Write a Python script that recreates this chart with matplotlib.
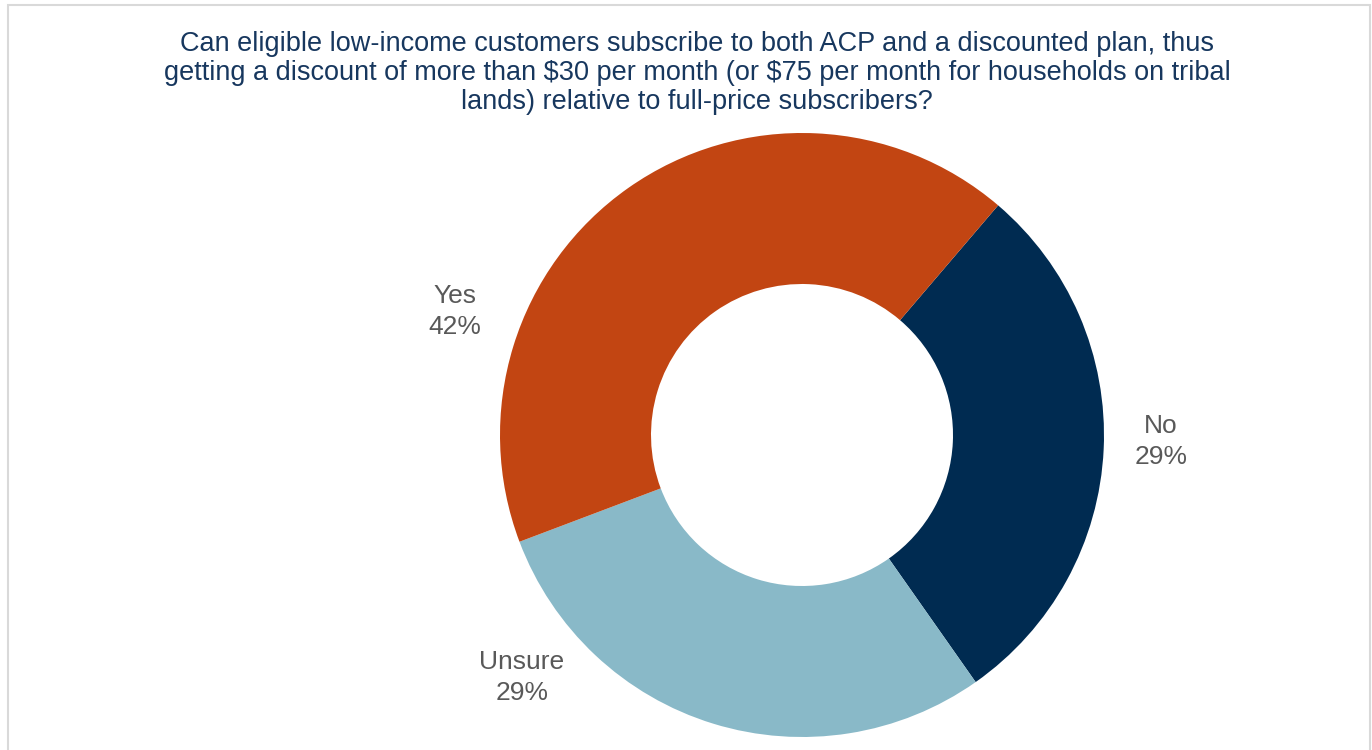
import matplotlib.pyplot as plt
from matplotlib.patches import Rectangle

plt.rcParams['font.family'] = ['Liberation Sans', 'DejaVu Sans']

# data
labels = ["No", "Unsure", "Yes"]
values = [29, 29, 42]
colors = ["#002B51", "#89B9C8", "#C24512"]

title_lines = [
    "Can eligible low-income customers subscribe to both ACP and a discounted plan, thus",
    "getting a discount of more than \\$30 per month (or \\$75 per month for households on tribal",
    "lands) relative to full-price subscribers?",
]

W, H = 1372, 750
fig = plt.figure(figsize=(W / 100, H / 100), dpi=100)

# outer frame
fig.patches.append(Rectangle((8 / W, -0.01), 1362 / W, 1 - 5 / H + 0.01, transform=fig.transFigure,
                             fill=False, edgecolor="#D9D9D9", linewidth=1.5))

for i, line in enumerate(title_lines):
    fig.text(697 / W, 1 - (44 + 29 * i) / H, line, ha="center", va="center", fontsize=19.5,
             color="#17375E")

cx, cy, r = 802, 435, 302
ax = fig.add_axes([(cx - r) / W, (H - cy - r) / H, 2 * r / W, 2 * r / H])
ax.pie(values, colors=colors, startangle=49.5, counterclock=False, radius=1,
       wedgeprops=dict(width=0.5, linewidth=0))
ax.set_xlim(-1, 1)
ax.set_ylim(-1, 1)
ax.set_aspect("equal")
ax.axis("off")

# label positions in pixels (Excel best-fit)
label_pos = {"Yes": (455, 296), "No": (1161, 426), "Unsure": (522, 662)}
for lab, v in zip(labels, values):
    px, py = label_pos[lab]
    ax.text((px - cx) / r, (cy - py) / r, lab, ha="center", va="center",
            fontsize=19, color="#595959")
    ax.text((px - cx) / r, (cy - py - 31) / r, f"{v}%", ha="center", va="center",
            fontsize=19, color="#595959")

fig.savefig("out.png", dpi=100)
